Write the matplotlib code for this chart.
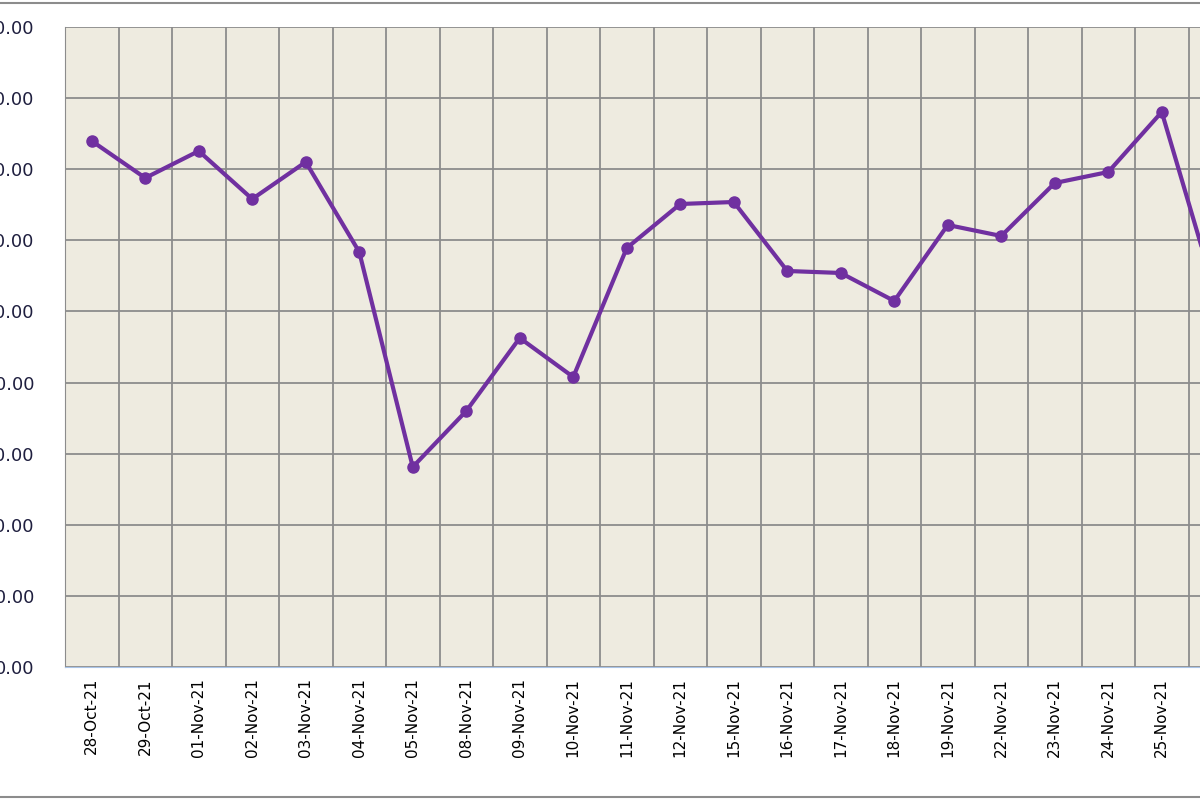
import matplotlib
matplotlib.use("Agg")
import matplotlib.pyplot as plt
from matplotlib.lines import Line2D

dates = ["28-Oct-21","29-Oct-21","01-Nov-21","02-Nov-21","03-Nov-21","04-Nov-21","05-Nov-21",
         "08-Nov-21","09-Nov-21","10-Nov-21","11-Nov-21","12-Nov-21","15-Nov-21","16-Nov-21",
         "17-Nov-21","18-Nov-21","19-Nov-21","22-Nov-21","23-Nov-21","24-Nov-21","25-Nov-21","26-Nov-21"]
values = [7397,6877,7256,6581,7102,5836,2813,3600,4627,4078,5892,6511,6539,5569,5541,5147,
          6216,6061,6806,6961,7805,5259]
yticks = list(range(0, 9001, 1000))
ylabels = [f"{v:.2f}" for v in yticks]

fig = plt.figure(figsize=(12, 8), dpi=100)
fig.patch.set_facecolor("white")
ax = fig.add_axes([65/1200, 1-667/800, 22*53.5/1200, 0.8])
ax.set_facecolor("#eeebe0")
x = list(range(len(dates)))
ax.plot(x, values, color="#7030a0", lw=3, marker="o", ms=8, clip_on=False, zorder=3)
ax.set_xlim(-0.5, len(dates)-0.5)
ax.set_ylim(0, 9000)
ax.set_yticks(yticks)
ax.set_yticklabels(ylabels, fontsize=13, color="#1f1f3f")
ax.set_xticks(x)
ax.set_xticklabels(dates, rotation=90, fontsize=11)
ax.set_xticks([i+0.5 for i in range(-1, len(dates))], minor=True)
ax.grid(True, which="minor", axis="x", color="#8c8c8c", lw=1.3)
ax.grid(True, which="major", axis="y", color="#8c8c8c", lw=1.3)
ax.tick_params(which="both", length=0)
ax.tick_params(axis="y", pad=22)
ax.tick_params(axis="x", pad=8)
for s in ["top", "right"]:
    ax.spines[s].set_visible(False)
ax.spines["left"].set_color("#8c8c8c")
ax.spines["bottom"].set_color("#a9c4e8")
ax.set_axisbelow(True)
fig.add_artist(Line2D([0, 1], [1-3/800, 1-3/800], color="#8c8c8c", lw=1.5, transform=fig.transFigure))
fig.add_artist(Line2D([0, 1], [3/800, 3/800], color="#8c8c8c", lw=1.5, transform=fig.transFigure))
fig.savefig("out.png", dpi=100)
